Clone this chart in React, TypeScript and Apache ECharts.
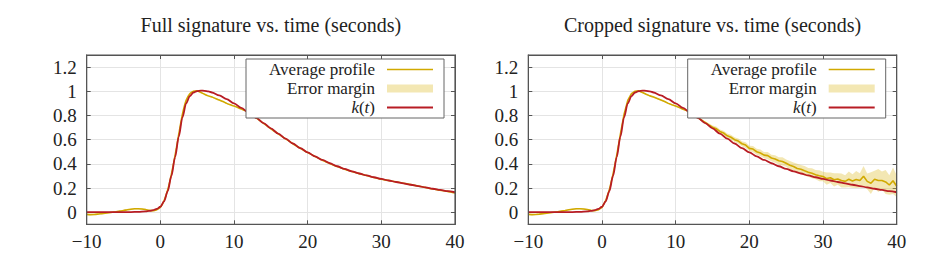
import React, { useEffect, useRef } from 'react';
import * as echarts from 'echarts';

const FONT = '"Liberation Serif", "Times New Roman", serif';
const YELLOW = '#d1a900';
const RED = '#b81c24';
const BAND = 'rgba(221, 188, 45, 0.36)';
const AXIS = '#555555';
const GRIDC = '#e4e4e4';
const TEXTC = '#222222';

const titles = ['Full signature vs. time (seconds)', 'Cropped signature vs. time (seconds)'];
const legendLabels = ['Average profile', 'Error margin', '{i|k}({i|t})'];
const yTickValues = [0, 0.2, 0.4, 0.6, 0.8, 1, 1.2];

// k(t) model curve
const kTime = [-10, -8, -6, -4, -3, -2, -1.5, -1, -0.5, 0, 0.5, 1, 1.5, 2, 2.5, 3, 3.5, 4, 4.5, 5, 5.5, 6, 6.5, 7, 8, 9, 10, 11, 12, 13, 14, 15, 16, 17, 18, 19, 20, 21, 22, 23, 24, 25, 26, 27, 28, 29, 30, 31, 32, 33, 34, 35, 36, 37, 38, 39, 40];
const kValues = [0, 0, 0, 0.001, 0.003, 0.007, 0.011, 0.017, 0.027, 0.045, 0.09, 0.175, 0.3, 0.455, 0.625, 0.785, 0.9, 0.96, 0.99, 1.002, 1.006, 1.004, 0.999, 0.99, 0.966, 0.935, 0.9, 0.862, 0.822, 0.78, 0.737, 0.693, 0.65, 0.608, 0.568, 0.53, 0.495, 0.462, 0.432, 0.405, 0.38, 0.358, 0.338, 0.32, 0.304, 0.289, 0.275, 0.262, 0.25, 0.238, 0.227, 0.216, 0.205, 0.194, 0.184, 0.174, 0.165];

// Full signature average profile
const fullTime = [-10, -9.5, -9, -8.5, -8, -7.5, -7, -6.5, -6, -5.5, -5, -4.5, -4, -3.5, -3, -2.5, -2, -1.5, -1, -0.5,
  0, 0.5, 1, 1.5, 2, 2.5, 3, 3.5, 4, 4.5, 5, 5.5, 6, 6.5, 7, 7.5, 8, 8.5, 9, 9.5, 10, 10.5, 11, 11.5, 12,
  13, 14, 15, 16, 17, 18, 19, 20, 21, 22, 23, 24, 25, 26, 27, 28, 29, 30, 31, 32, 33, 34, 35, 36, 37, 38, 39, 40];
const fullAvg = [-0.018, -0.02, -0.019, -0.016, -0.012, -0.008, -0.004, 0.0, 0.004, 0.009, 0.014, 0.02, 0.025, 0.028, 0.029, 0.027, 0.022, 0.015, 0.012, 0.02,
  0.04, 0.095, 0.185, 0.315, 0.47, 0.645, 0.81, 0.925, 0.98, 1.0, 1.003, 0.99, 0.975, 0.962, 0.952, 0.94, 0.928, 0.915, 0.9, 0.888, 0.878, 0.866, 0.854, 0.84, 0.822,
  0.781, 0.735, 0.69, 0.648, 0.607, 0.566, 0.529, 0.493, 0.461, 0.43, 0.403, 0.377, 0.356, 0.337, 0.319, 0.303, 0.287, 0.272, 0.262, 0.251, 0.24, 0.228, 0.216, 0.204, 0.192, 0.182, 0.172, 0.16];
const fullErr = [0.006, 0.006, 0.006, 0.006, 0.006, 0.006, 0.006, 0.006, 0.006, 0.006, 0.006, 0.006, 0.006, 0.006, 0.006, 0.006, 0.006, 0.006, 0.006, 0.006,
  0.005, 0.005, 0.005, 0.005, 0.005, 0.005, 0.005, 0.005, 0.005, 0.005, 0.005, 0.005, 0.005, 0.005, 0.005, 0.005, 0.005, 0.005, 0.005, 0.005, 0.005, 0.005, 0.005, 0.005, 0.005,
  0.004, 0.004, 0.004, 0.004, 0.004, 0.004, 0.004, 0.004, 0.004, 0.004, 0.004, 0.004, 0.005, 0.005, 0.005, 0.005, 0.005, 0.005, 0.005, 0.005, 0.006, 0.006, 0.006, 0.006, 0.006, 0.006, 0.006, 0.006];

// Cropped signature average profile
const cropTime = [-10, -9.5, -9, -8.5, -8, -7.5, -7, -6.5, -6, -5.5, -5, -4.5, -4, -3.5, -3, -2.5, -2, -1.5, -1, -0.5,
  0, 0.5, 1, 1.5, 2, 2.5, 3, 3.5, 4, 4.5, 5, 5.5, 6, 6.5, 7, 7.5, 8, 8.5, 9, 9.5, 10, 10.5, 11, 11.5,
  12, 12.5, 13, 13.5, 14, 14.5, 15, 15.5, 16, 16.5, 17, 17.5, 18, 18.5, 19, 19.5, 20, 20.5, 21, 21.5, 22, 22.5, 23, 23.5, 24, 24.5,
  25, 25.5, 26, 26.5, 27, 27.5, 28, 28.5, 29, 29.5, 30, 30.5, 31, 31.5, 32, 32.5, 33, 33.5, 34, 34.5, 35, 35.5, 36, 36.5, 37, 37.5, 38, 38.5, 39, 39.5, 40];
const cropAvg = [-0.018, -0.02, -0.019, -0.016, -0.012, -0.008, -0.004, 0.0, 0.004, 0.009, 0.014, 0.02, 0.025, 0.028, 0.029, 0.027, 0.022, 0.015, 0.012, 0.02,
  0.04, 0.095, 0.185, 0.315, 0.47, 0.645, 0.81, 0.925, 0.98, 1.0, 1.003, 0.99, 0.975, 0.962, 0.952, 0.94, 0.928, 0.915, 0.9, 0.888, 0.878, 0.866, 0.852, 0.84,
  0.825, 0.8, 0.782, 0.762, 0.742, 0.722, 0.703, 0.69, 0.668, 0.655, 0.632, 0.62, 0.6, 0.588, 0.566, 0.555, 0.528, 0.522, 0.5, 0.49, 0.472, 0.468, 0.448, 0.44, 0.425, 0.42,
  0.405, 0.388, 0.378, 0.362, 0.355, 0.342, 0.33, 0.322, 0.31, 0.302, 0.295, 0.278, 0.285, 0.268, 0.275, 0.262, 0.255, 0.272, 0.258, 0.27, 0.262, 0.298, 0.255, 0.24, 0.272, 0.262, 0.262, 0.25, 0.225, 0.26, 0.215];
const cropErr = [0.005, 0.005, 0.005, 0.005, 0.005, 0.005, 0.005, 0.005, 0.005, 0.005, 0.005, 0.005, 0.005, 0.005, 0.005, 0.005, 0.005, 0.005, 0.005, 0.005,
  0.005, 0.005, 0.005, 0.005, 0.005, 0.005, 0.005, 0.005, 0.005, 0.005, 0.005, 0.005, 0.005, 0.005, 0.005, 0.005, 0.005, 0.005, 0.005, 0.005, 0.005, 0.005, 0.005, 0.005,
  0.006, 0.007, 0.008, 0.01, 0.011, 0.013, 0.015, 0.018, 0.016, 0.019, 0.018, 0.021, 0.02, 0.022, 0.021, 0.024, 0.022, 0.026, 0.024, 0.028, 0.025, 0.03, 0.027, 0.032, 0.03, 0.034,
  0.03, 0.036, 0.033, 0.038, 0.035, 0.04, 0.036, 0.042, 0.038, 0.045, 0.04, 0.05, 0.044, 0.055, 0.048, 0.058, 0.05, 0.065, 0.055, 0.07, 0.06, 0.085, 0.065, 0.09, 0.07, 0.095, 0.075, 0.1, 0.08, 0.11, 0.09];

const pairs = (t: number[], v: number[]) => t.map((x, i) => [x, v[i]]);

const GRIDS = [
  { left: 86.7, right: 455 },
  { left: 528.3, right: 896.7 },
];
const GTOP = 55;
const GBOTTOM = 224.3;
const LEGEND_FONT = 17;

const xFmt = (v: number) => (v < 0 ? '\u2212' + String(-v) : String(v));
const yFmt = (v: number) => {
  const hit = yTickValues.find((t) => Math.abs(t - v) < 1e-6);
  return hit === undefined ? '' : String(hit);
};

function bandSeries(xi: number, yi: number, t: number[], v: number[], e: number[]) {
  return {
    type: 'custom', xAxisIndex: xi, yAxisIndex: yi, silent: true, z: 1, clip: true,
    data: [[t[0], v[0]]],
    encode: { x: 0, y: 1 },
    renderItem: (_params: any, api: any) => {
      const upper = t.map((x, i) => api.coord([x, v[i] + e[i]]));
      const lower = t.map((x, i) => api.coord([x, v[i] - e[i]])).reverse();
      return {
        type: 'polygon',
        shape: { points: upper.concat(lower) },
        style: { fill: BAND, stroke: 'none' },
      };
    },
  };
}

function buildOption() {
  const grid: any[] = [];
  const xAxis: any[] = [];
  const yAxis: any[] = [];
  const series: any[] = [];
  const graphic: any[] = [];
  const datasets = [
    { t: fullTime, v: fullAvg, e: fullErr },
    { t: cropTime, v: cropAvg, e: cropErr },
  ];

  GRIDS.forEach((g, gi) => {
    grid.push({
      left: g.left,
      right: 930 - g.right,
      top: GTOP,
      bottom: 261 - GBOTTOM,
      show: false,
      containLabel: false,
      outerBoundsMode: 'none',
    });
    const xBase = {
      type: 'value', gridIndex: gi, min: -10, max: 40, interval: 10,
      axisLine: { show: true, onZero: false, lineStyle: { color: AXIS, width: 1 } },
      axisTick: { show: true, inside: true, length: 4, lineStyle: { color: AXIS } },
    };
    xAxis.push({
      ...xBase, position: 'bottom',
      axisLabel: { show: true, fontFamily: FONT, fontSize: 19, color: TEXTC, margin: 8, formatter: xFmt },
      splitLine: { show: true, lineStyle: { color: GRIDC, width: 1 } },
    });
    xAxis.push({
      ...xBase, position: 'top',
      axisLabel: { show: false },
      splitLine: { show: false },
    });
    const yBase = {
      type: 'value', gridIndex: gi, min: -0.1, max: 1.3, splitNumber: 7,
      axisLine: { show: true, onZero: false, lineStyle: { color: AXIS, width: 1 } },
      axisTick: { show: true, inside: true, length: 4, lineStyle: { color: AXIS } },
    };
    yAxis.push({
      ...yBase, position: 'left',
      axisLabel: { show: true, fontFamily: FONT, fontSize: 19, color: TEXTC, margin: 10, formatter: yFmt, showMinLabel: false, showMaxLabel: false },
      splitLine: { show: true, lineStyle: { color: GRIDC, width: 1 } },
    });
    yAxis.push({
      ...yBase, position: 'right',
      axisLabel: { show: false },
      splitLine: { show: false },
    });

    const xi = gi * 2;
    const yi = gi * 2;
    const d = datasets[gi];
    series.push(bandSeries(xi, yi, d.t, d.v, d.e));
    series.push({
      type: 'line', xAxisIndex: xi, yAxisIndex: yi, data: pairs(d.t, d.v),
      symbol: 'none', lineStyle: { color: YELLOW, width: 1.6 }, z: 2,
      smooth: gi === 0 ? 0.25 : false,
    });
    series.push({
      type: 'line', xAxisIndex: xi, yAxisIndex: yi, data: pairs(kTime, kValues),
      symbol: 'none', lineStyle: { color: RED, width: 1.8 }, z: 3,
      smooth: 0.3, smoothMonotone: 'x',
    });

    // title
    graphic.push({
      type: 'text', x: (g.left + g.right) / 2, y: 25, z: 100,
      style: { text: titles[gi], fill: TEXTC, font: `20px ${FONT}`, align: 'center', verticalAlign: 'middle', textAlign: 'center', textVerticalAlign: 'middle' },
    });
    // frame
    graphic.push({
      type: 'rect', z: 90, silent: true,
      shape: { x: g.left, y: GTOP, width: g.right - g.left, height: GBOTTOM - GTOP },
      style: { fill: 'none', stroke: AXIS, lineWidth: 1.2 },
    });
    // legend
    const bx = g.right - 209;
    const textRight = bx + 129;
    const sx1 = bx + 141;
    const sx2 = bx + 187;
    const rows = [69.5, 88.5, 107.5];
    graphic.push({
      type: 'rect', z: 100, shape: { x: bx, y: 59, width: 198, height: 59 },
      style: { fill: '#ffffff', stroke: '#666666', lineWidth: 1 },
    });
    legendLabels.forEach((lab, li) => {
      graphic.push({
        type: 'text', z: 101, x: textRight, y: rows[li],
        style: {
          text: lab, fill: TEXTC, fontFamily: FONT, fontSize: LEGEND_FONT, lineHeight: 16,
          align: 'right', verticalAlign: 'middle', textAlign: 'right', textVerticalAlign: 'middle',
          rich: { i: { fontStyle: 'italic', fontFamily: FONT, fontSize: LEGEND_FONT, lineHeight: 16, fill: TEXTC, color: TEXTC } },
        },
      });
    });
    graphic.push({ type: 'line', z: 101, shape: { x1: sx1, y1: rows[0], x2: sx2, y2: rows[0] }, style: { stroke: YELLOW, lineWidth: 1.6 } });
    graphic.push({ type: 'rect', z: 101, shape: { x: sx1, y: rows[1] - 4, width: sx2 - sx1, height: 8 }, style: { fill: BAND } });
    graphic.push({ type: 'line', z: 101, shape: { x1: sx1, y1: rows[2], x2: sx2, y2: rows[2] }, style: { stroke: RED, lineWidth: 1.8 } });
  });

  return { animation: false, backgroundColor: '#ffffff', grid, xAxis, yAxis, series, graphic };
}

export default function App() {
  const ref = useRef<HTMLDivElement>(null);
  useEffect(() => {
    const chart = echarts.init(ref.current!, null, { renderer: 'svg' });
    chart.setOption(buildOption() as any);
    return () => chart.dispose();
  }, []);
  return <div ref={ref} style={{ position: 'absolute', left: 0, top: 0, width: 930, height: 261 }} />;
}
